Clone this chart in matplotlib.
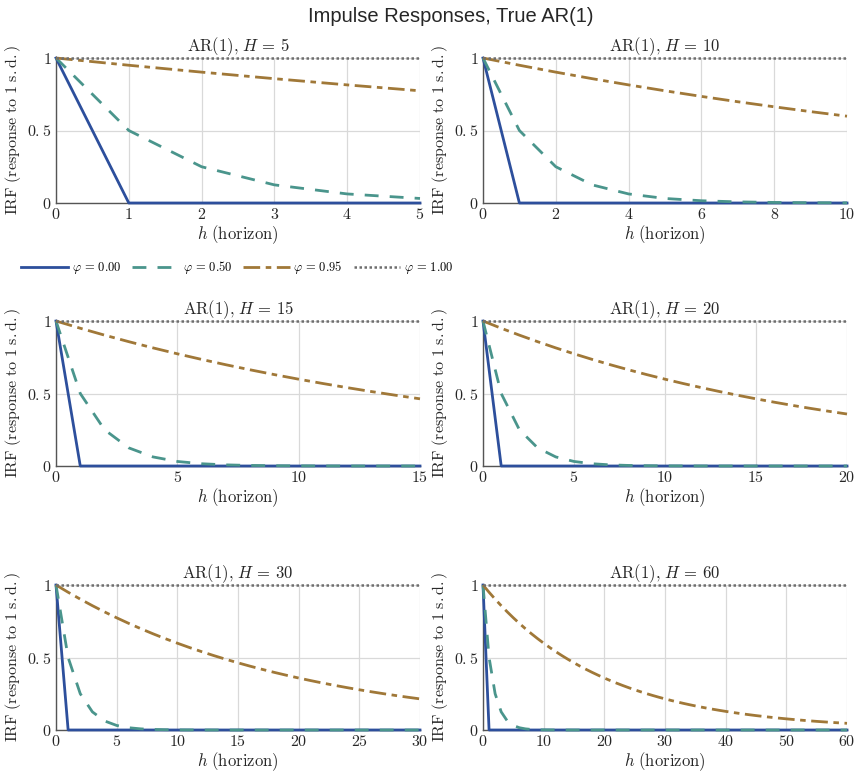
import matplotlib
matplotlib.use("Agg")
import matplotlib.pyplot as plt

plt.rcParams['mathtext.fontset'] = 'cm'
plt.rcParams['font.family'] = ['DejaVu Sans']

horizons = [5, 10, 15, 20, 30, 60]
xtick_steps = [1, 2, 5, 5, 5, 10]
phi_labels = ["0.00", "0.50", "0.95", "1.00"]

irf_phi000 = [1.0] + [0.0] * 60
irf_phi050 = [1.0, 0.5, 0.25, 0.125, 0.0625, 0.0313, 0.0156, 0.0078, 0.0039, 0.002,
              0.001, 0.0005, 0.0002, 0.0001, 0.0001] + [0.0] * 46
irf_phi095 = [1.0, 0.95, 0.9025, 0.8574, 0.8145, 0.7738, 0.7351, 0.6983, 0.6634, 0.6302,
              0.5987, 0.5688, 0.5404, 0.5133, 0.4877, 0.4633, 0.4401, 0.4181, 0.3972, 0.3774,
              0.3585, 0.3406, 0.3235, 0.3074, 0.2920, 0.2774, 0.2635, 0.2503, 0.2378, 0.2259,
              0.2146, 0.2039, 0.1937, 0.1840, 0.1748, 0.1661, 0.1578, 0.1499, 0.1424, 0.1353,
              0.1285, 0.1221, 0.1160, 0.1102, 0.1047, 0.0994, 0.0945, 0.0897, 0.0853, 0.0810,
              0.0769, 0.0731, 0.0694, 0.0660, 0.0627, 0.0595, 0.0566, 0.0537, 0.0510, 0.0485,
              0.0461]
irf_phi100 = [1.0] * 61

series = [irf_phi000, irf_phi050, irf_phi095, irf_phi100]
colors = ['#2d4f9c', '#4a958c', '#a07838', '#6e6e6e']
styles = ['-', (0, (5, 4)), (0, (6, 2, 2, 2)), (0, (1, 1))]
widths = [2.0, 2.0, 2.0, 1.8]

W, Hpx = 855, 774
fig = plt.figure(figsize=(W / 100, Hpx / 100), dpi=100)

lefts = [56, 483]
tops = [58, 321, 585]
aw, ah = 364, 145

axes = []
for i, Hh in enumerate(horizons):
    r, c = divmod(i, 2)
    x0 = lefts[c]
    y0 = tops[r]
    ax = fig.add_axes([x0 / W, 1 - (y0 + ah) / Hpx, aw / W, ah / Hpx])
    axes.append(ax)
    h = list(range(Hh + 1))
    lines = []
    for s, col, ls, lw in zip(series, colors, styles, widths):
        ln, = ax.plot(h, s[:Hh + 1], color=col, linestyle=ls, linewidth=lw, zorder=3,
                      clip_on=False)
        lines.append(ln)
    ax.set_xlim(0, Hh)
    ax.set_ylim(0, 1)
    step = xtick_steps[i]
    xt = list(range(0, Hh + 1, step))
    ax.set_xticks(xt)
    ax.set_xticklabels([r'$\mathrm{%d}$' % v for v in xt])
    ax.set_yticks([0, 0.5, 1])
    ax.set_yticklabels([r'$\mathrm{0}$', r'$\mathrm{0{.}5}$', r'$\mathrm{1}$'])
    ax.tick_params(length=0, labelsize=11.5, pad=3, colors='#262626')
    ax.grid(True, color='#d9d9d9', linewidth=0.9)
    ax.set_axisbelow(True)
    for sp in ['top', 'right']:
        ax.spines[sp].set_visible(False)
    for sp in ['left', 'bottom']:
        ax.spines[sp].set_color('#555555')
        ax.spines[sp].set_linewidth(1.0)
    ax.set_title(r'$\mathrm{AR}(1){,}\ H\,=\,%d$' % Hh, fontsize=12, pad=4, color='#262626')
    ax.set_xlabel(r'$h\ \mathrm{(horizon)}$', fontsize=12, labelpad=1, color='#262626')
    ax.set_ylabel(r'$\mathrm{IRF\ (response\ to\ 1\ s{.}d{.})}$', fontsize=11.5, labelpad=3,
                  color='#262626')

fig.legend(lines, [r'$\varphi\,=\,%s$' % p for p in phi_labels], loc='center left',
           bbox_to_anchor=(21 / W, 1 - 268 / Hpx), ncol=4, frameon=False, fontsize=9,
           handlelength=3.75, handletextpad=0.3, columnspacing=0.85, borderaxespad=0,
           borderpad=0)

fig.text(451 / W, 1 - 17 / Hpx, 'Impulse Responses, True AR(1)', ha='center', va='center',
         fontsize=14.5, color='#262626', family='Liberation Sans')

fig.savefig('out.png', dpi=100)
